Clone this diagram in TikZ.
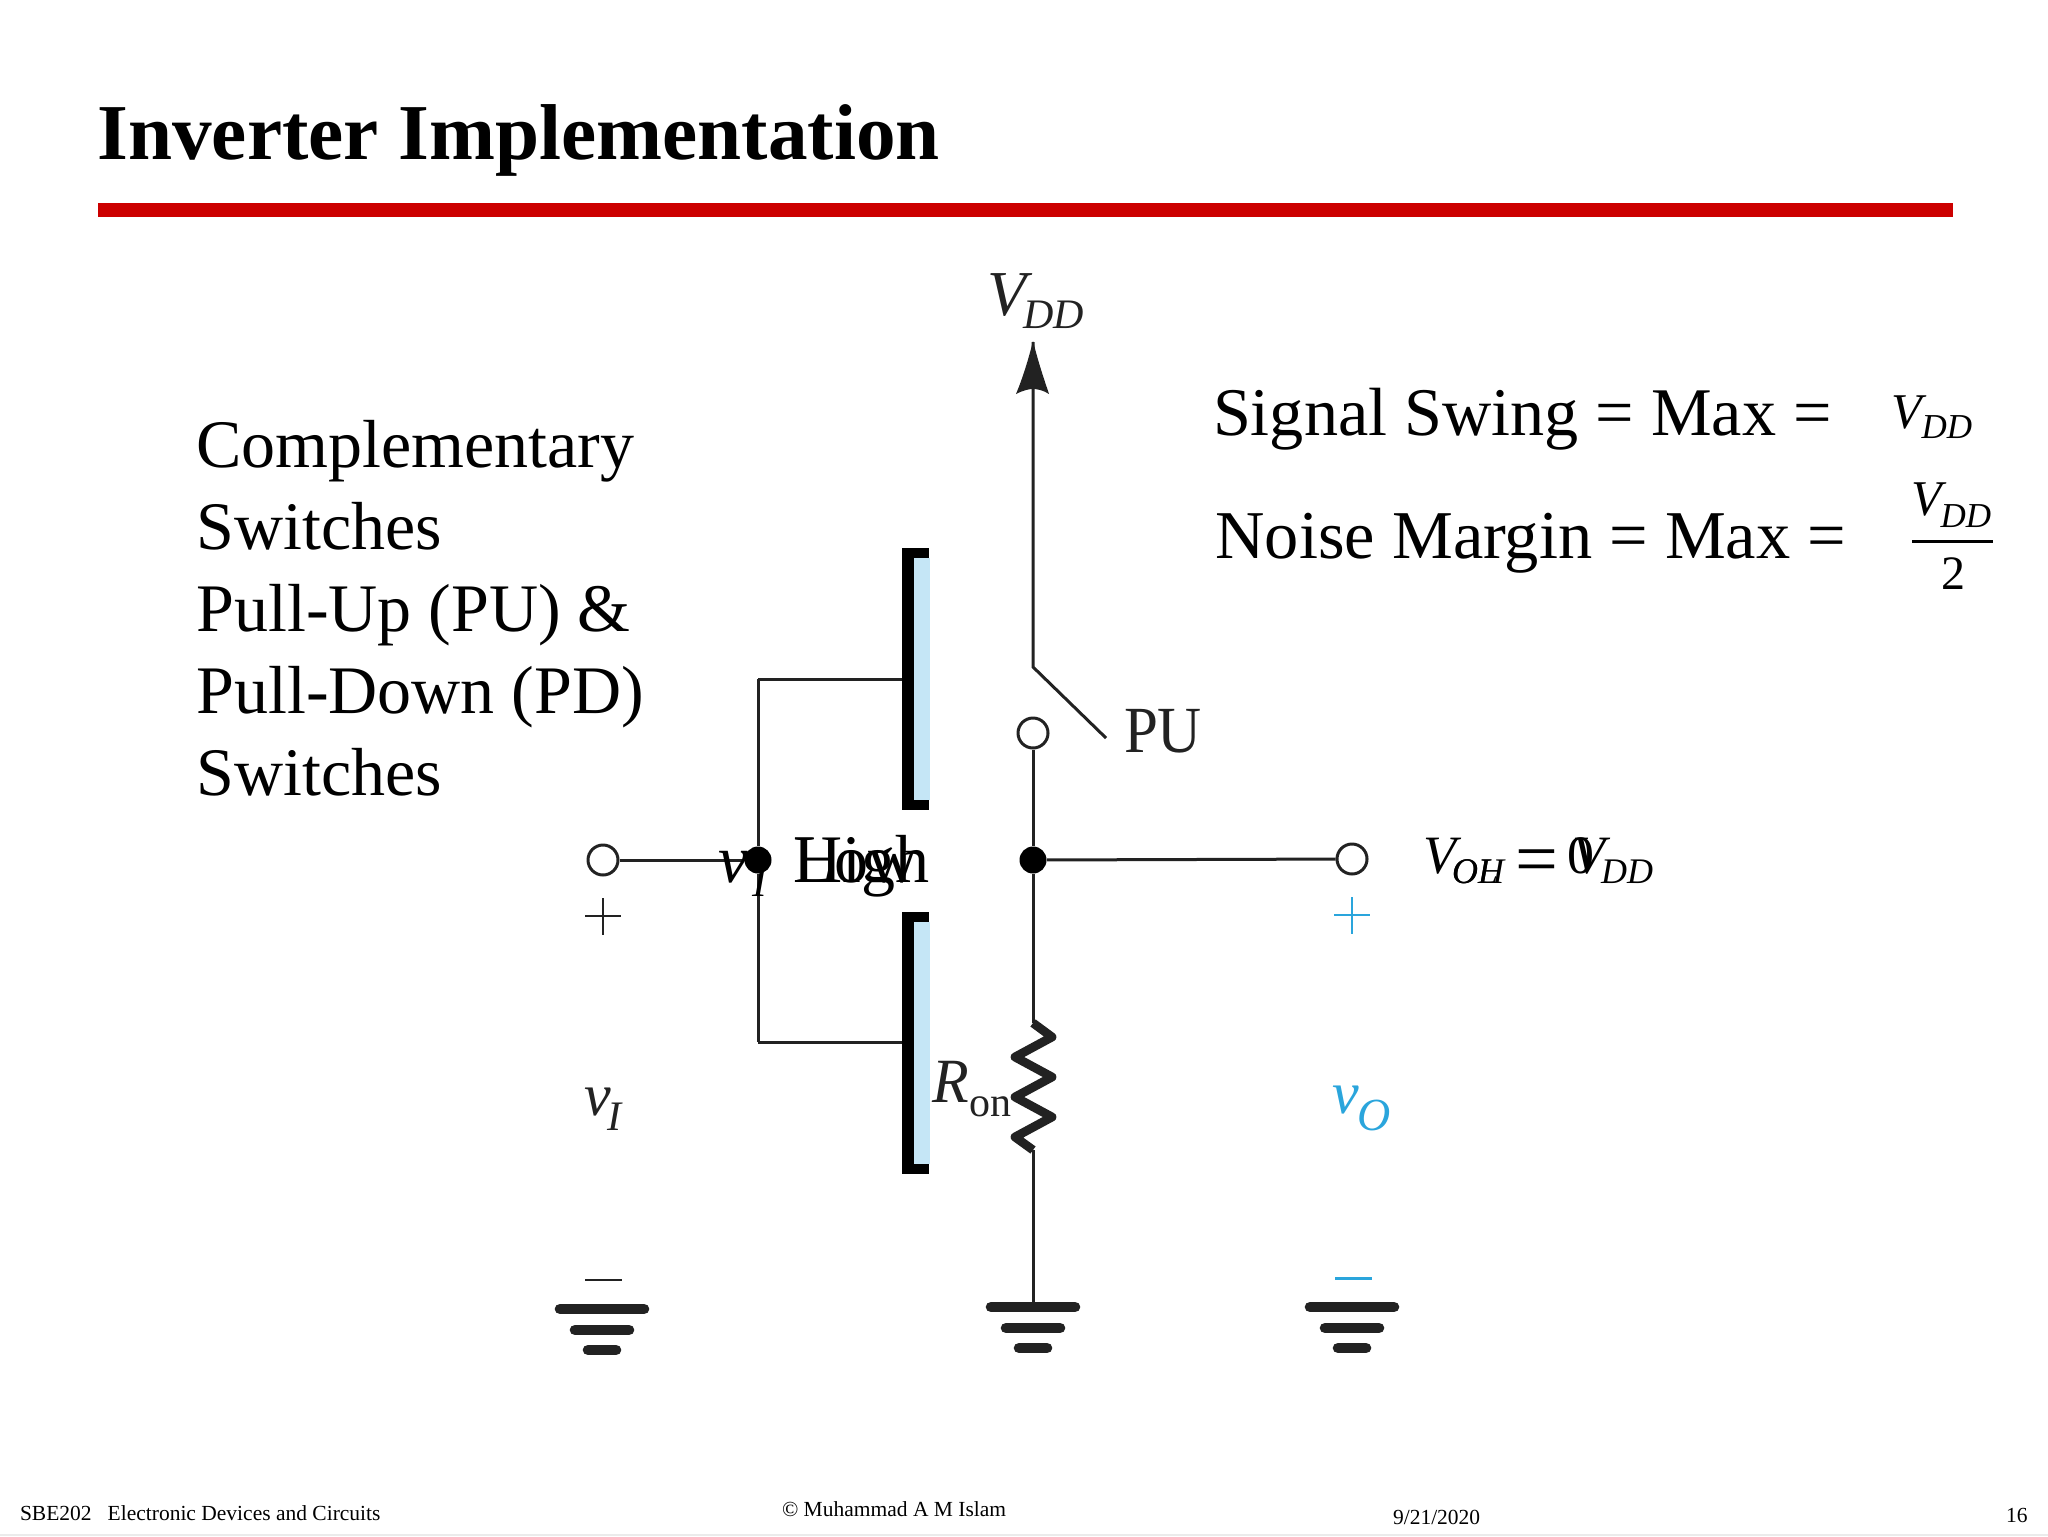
\documentclass[tikz,border=0pt]{standalone}
\usepackage{fontspec}
\setmainfont{Liberation Serif}
\usetikzlibrary{calc}
\definecolor{ink}{HTML}{222222}
\definecolor{cyanink}{HTML}{2AA5DC}
\definecolor{barblue}{HTML}{C5E6F6}
\definecolor{titlered}{HTML}{CC0000}
\newcommand{\fs}[1]{\fontsize{#1}{#1}\selectfont}
\tikzset{
  txt/.style={anchor=base west,inner sep=0pt,outer sep=0pt},
  wire/.style={draw=ink,line width=1.5pt},
  term/.style={circle,draw=ink,line width=1.5pt,fill=white,minimum size=15pt,inner sep=0pt},
  junc/.style={circle,fill=black,minimum size=13.5pt,inner sep=0pt},
  gbar/.style={ink,line width=5.3pt,line cap=round},
  sign/.style={line width=1.1pt},
  gatebar/.style={fill=black,inner sep=0pt,minimum width=13.5pt,minimum height=131pt},
  gatefill/.style={fill=barblue,inner sep=0pt,minimum width=8pt,minimum height=121pt},
}
\newcommand{\grnd}[3]{% name, x, y
  \coordinate (#1) at (#2,#3);
  \draw[gbar] ($(#1)+(-42,0)$) -- ($(#1)+(42,0)$);
  \draw[gbar] ($(#1)+(-27,21)$) -- ($(#1)+(27,21)$);
  \draw[gbar] ($(#1)+(-14,41)$) -- ($(#1)+(14,41)$);
}
\begin{document}
\begin{tikzpicture}[x=0.5pt,y=-0.5pt]
\useasboundingbox (0,0) rectangle (2048,1536);
\fill[white] (0,0) rectangle (2048,1536);
\fill[black!8] (0,1534) rectangle (2048,1536);
% title
\node[txt,font=\fs{39.6}\bfseries] (title) at (97.5,159) {Inverter Implementation};
\fill[titlered] (98,203) rectangle (1953,217);
% body text
\node[anchor=north west,inner sep=0pt,align=left,font=\fontsize{34}{41}\selectfont] (body) at (196,420)
  {Complementary\\Switches\\Pull-Up (PU) \&\\Pull-Down (PD)\\Switches};
% equations
\node[txt,font=\fs{34.1}] (swing) at (1213,435) {Signal Swing = Max =};
\node[txt,font=\fs{34.2}] (noise) at (1215.5,558) {Noise Margin = Max =};
\node[txt,font=\fs{25}\itshape] (vs) at (1891,428) {V\raisebox{-5pt}{\fs{17.5}DD}};
\node[txt,font=\fs{25}\itshape] (vn) at (1911,515) {V\hspace{-0.5pt}\raisebox{-6pt}{\fs{17.5}DD}};
\coordinate (fl) at (1912,541);
\coordinate (fr) at (1993,541);
\draw[line width=1.5pt] (fl) -- (fr);
\node[txt,font=\fs{24}] (two) at (1941,589) {2};
% gate bars
\node[gatebar] (gu) at (915.5,679) {};
\node[gatefill] (guf) at (921.5,679) {};
\node[gatebar] (gd) at (915.5,1042.5) {};
\node[gatefill] (gdf) at (921.5,1042.5) {};
% circuit nodes
\coordinate (vddt) at (1033,342);
\coordinate (hinge) at (1033,667);
\coordinate (blade) at (1106,738);
\node[term] (pc) at (1033,733) {};
\node[junc] (jout) at (1033,860) {};
\node[junc] (jin) at (758,860) {};
\node[term] (vin) at (603,860) {};
\node[term] (vout) at (1352,859) {};
\coordinate (gutl) at (758,679);
\coordinate (gdbl) at (758,1042);
\coordinate (rtop) at (1033,1023);
\coordinate (rbot) at (1033,1150);
\grnd{g1}{602}{1309}
\grnd{g2}{1033}{1307}
\grnd{g3}{1352}{1307}
% wires
\draw[wire] (vddt) -- (hinge) -- (blade);
\fill[ink] (1033,341) .. controls (1027,365) and (1021,382) .. (1016,394)
  .. controls (1024,390) and (1029,389) .. (1033,389)
  .. controls (1037,389) and (1043,390) .. (1049,394)
  .. controls (1045,382) and (1039,365) .. (1033,341) -- cycle;
\draw[wire] (pc) -- (jout);
\draw[wire] (jout) -- (vout);
\draw[wire] (vin) -- (jin);
\draw[wire] (gutl) -- (gu.west |- gutl);
\draw[wire] (gutl) -- (jin);
\draw[wire] (jin) -- (gdbl);
\draw[wire] (gdbl) -- (gd.west |- gdbl);
\draw[wire] (jout) -- (rtop);
\draw[wire] (rbot) -- (g2);
\draw[ink,line width=4.4pt,line join=round]
  (rtop) -- (1052,1037) -- (1015,1057) -- (1052,1077) -- (1015,1097) -- (1052,1117) -- (1015,1137) -- (rbot);
% signs
\draw[ink,sign] (585,916) -- (621,916);
\draw[ink,sign] (603,898) -- (603,935);
\draw[cyanink,sign] (1334,915) -- (1370,915);
\draw[cyanink,sign] (1352,897) -- (1352,934);
\draw[ink,line width=1.3pt] (585,1280) -- (622,1280);
\draw[cyanink,line width=1.5pt] (1335,1278) -- (1372,1278);
% circuit labels
\node[txt,font=\fs{32}\itshape,text=ink] (vdd) at (987,315) {V};
\node[txt,font=\fs{21}\itshape,text=ink] (vdds) at (1023,328) {DD};
\node[txt,font=\fs{30.5},text=ink] (pu) at (1124,752) {\scalebox{1}[1.08]{PU}};
\node[txt,font=\fs{30}\itshape,text=ink] (ron) at (932,1102) {\scalebox{1}[1.05]{R}};
\node[txt,font=\fs{21},text=ink] (rons) at (969,1116) {on};
\node[txt,font=\fs{30}\itshape,text=ink] (vi) at (584,1115) {v};
\node[txt,font=\fs{21}\itshape,text=ink] (vis) at (607,1130) {I};
\node[txt,font=\fs{30}\itshape,text=cyanink] (vo) at (1332,1113) {v};
\node[txt,font=\fs{23}\itshape,text=cyanink] (vos) at (1357,1130) {O};
% overlapping labels
\node[txt,font=\fs{34}\itshape] (vi2) at (718,882) {v};
\node[txt,font=\fs{22}\itshape] (vi2s) at (752,896) {I};
\node[txt,font=\fs{34}] (high) at (793,882) {High};
\node[txt,font=\fs{34}] (low) at (793,882) {Low};
\node[txt,font=\fs{27}\itshape] (voh) at (1423,873) {V};
\node[txt,font=\fs{18}\itshape] (vohs) at (1452,883) {OH};
\node[txt,font=\fs{18}\itshape] (vols) at (1452,883) {OL};
\node[txt,font=\fs{38}] (eq) at (1515,884) {=};
\node[txt,font=\fs{27}] (zero) at (1567,873) {0};
\node[txt,font=\fs{27}\itshape] (vdd2) at (1572,873) {V};
\node[txt,font=\fs{18}\itshape] (vdd2s) at (1601,883) {DD};
% footer
\node[txt,font=\fs{10.75}] (f1) at (20,1520) {SBE202\hspace{8pt}Electronic Devices and Circuits};
\node[txt,font=\fs{10.75}] (f2) at (782,1516) {© Muhammad A M Islam};
\node[txt,font=\fs{10.75}] (f3) at (1393,1524) {9/21/2020};
\node[txt,font=\fs{10.75}] (f4) at (2006,1522) {16};
\end{tikzpicture}
\end{document}
